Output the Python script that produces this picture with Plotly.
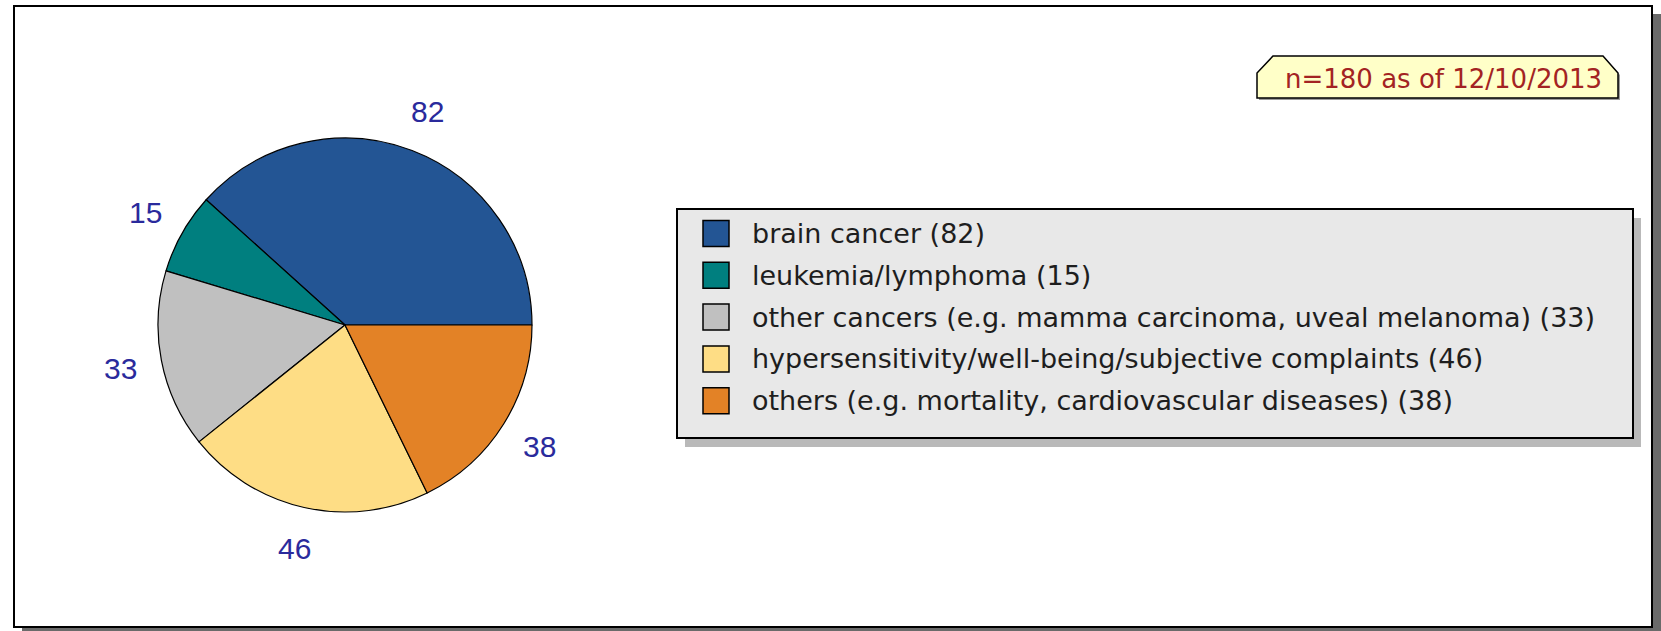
import math
import plotly.graph_objects as go

# ---------------- data ----------------
categories = [
    "brain cancer",
    "leukemia/lymphoma",
    "other cancers (e.g. mamma carcinoma, uveal melanoma)",
    "hypersensitivity/well-being/subjective complaints",
    "others (e.g. mortality, cardiovascular diseases)",
]
counts = [82, 15, 33, 46, 38]
note_text = "n=180 as of 12/10/2013"

# ---------------- styling ----------------
slice_colors = ["#235594", "#007f7f", "#c0c0c0", "#fedd85", "#e38226"]
W, H = 1661, 631
CX, CY, R = 345, 325, 187          # pie centre / radius in pixels
LABEL_R = 229                      # radius of the value labels

def fx(x):
    return x / W

def fy(y):
    return 1 - y / H

total = sum(counts)
# first slice begins at 3 o'clock and runs counter-clockwise
start_rotation = 90 - 360 * counts[0] / total

fig = go.Figure()

fig.add_trace(go.Pie(
    values=counts,
    labels=categories,
    sort=False,
    direction="counterclockwise",
    rotation=start_rotation,
    marker=dict(colors=slice_colors, line=dict(color="black", width=1.2)),
    textinfo="none",
    hoverinfo="label+value",
    showlegend=False,
    domain=dict(x=[fx(CX - R), fx(CX + R)], y=[fy(CY + R), fy(CY - R)]),
))

shapes = []
annotations = []

# outer frame with shadow
shapes.append(dict(type="rect", xref="paper", yref="paper",
                   x0=fx(22), x1=fx(1661), y0=fy(636), y1=fy(14),
                   fillcolor="#6a6a6a", line=dict(width=0), layer="below"))
shapes.append(dict(type="rect", xref="paper", yref="paper",
                   x0=fx(14), x1=fx(1652), y0=fy(627), y1=fy(6),
                   fillcolor="white", line=dict(color="black", width=2), layer="below"))

# value labels around the pie (angles derived from the data)
cum = 0
for v in counts:
    mid = 2 * math.pi * (cum + v / 2) / total   # counter-clockwise from 3 o'clock
    cum += v
    lx = CX + LABEL_R * math.cos(mid)
    ly = CY - LABEL_R * math.sin(mid)
    annotations.append(dict(xref="paper", yref="paper", x=fx(lx), y=fy(ly),
                            text=str(v), showarrow=False,
                            xanchor="center", yanchor="middle",
                            font=dict(family="Liberation Sans, Arial", size=30, color="#2a2a9c")))

# legend box with shadow
LX0, LY0, LX1, LY1 = 677, 209, 1633, 438
shapes.append(dict(type="rect", xref="paper", yref="paper",
                   x0=fx(LX0 + 8), x1=fx(LX1 + 8), y0=fy(LY1 + 9), y1=fy(LY0 + 9),
                   fillcolor="#b9b9b9", line=dict(width=0)))
shapes.append(dict(type="rect", xref="paper", yref="paper",
                   x0=fx(LX0), x1=fx(LX1), y0=fy(LY1), y1=fy(LY0),
                   fillcolor="#e8e8e8", line=dict(color="black", width=2)))

ROW0, ROWGAP, SQ = 233.5, 41.8, 26
for i, (lab, v, col) in enumerate(zip(categories, counts, slice_colors)):
    yc = ROW0 + i * ROWGAP
    shapes.append(dict(type="rect", xref="paper", yref="paper",
                       x0=fx(703), x1=fx(703 + SQ), y0=fy(yc + SQ / 2), y1=fy(yc - SQ / 2),
                       fillcolor=col, line=dict(color="black", width=1.5)))
    annotations.append(dict(xref="paper", yref="paper", x=fx(750), y=fy(yc),
                            text=f"{lab} ({v})", showarrow=False,
                            xanchor="left", yanchor="middle",
                            font=dict(family="DejaVu Sans", size=27, color="#1e1e1e")))

# note tag (top right)
def pth(pts):
    return "M " + " L ".join(f"{fx(x)},{fy(y)}" for x, y in pts) + " Z"

tag = [(1257, 98), (1257, 73), (1273, 56), (1603, 56), (1618, 73), (1618, 98)]
shapes.append(dict(type="path", xref="paper", yref="paper",
                   path=pth([(x + 2, y + 2) for x, y in tag]),
                   fillcolor="#9a9a9a", line=dict(width=0)))
shapes.append(dict(type="path", xref="paper", yref="paper", path=pth(tag),
                   fillcolor="#ffffc8", line=dict(color="black", width=1.5)))
annotations.append(dict(xref="paper", yref="paper", x=fx(1443), y=fy(79),
                        text=note_text, showarrow=False,
                        xanchor="center", yanchor="middle",
                        font=dict(family="DejaVu Sans", size=26, color="#a32323")))

fig.update_layout(
    width=W, height=H,
    margin=dict(l=0, r=0, t=0, b=0),
    paper_bgcolor="white", plot_bgcolor="white",
    shapes=shapes, annotations=annotations,
    showlegend=False,
)

fig.write_html(
    "out.html",
    config={"displayModeBar": False},
    post_script="document.body.style.margin='0';document.body.style.overflow='hidden';",
)
